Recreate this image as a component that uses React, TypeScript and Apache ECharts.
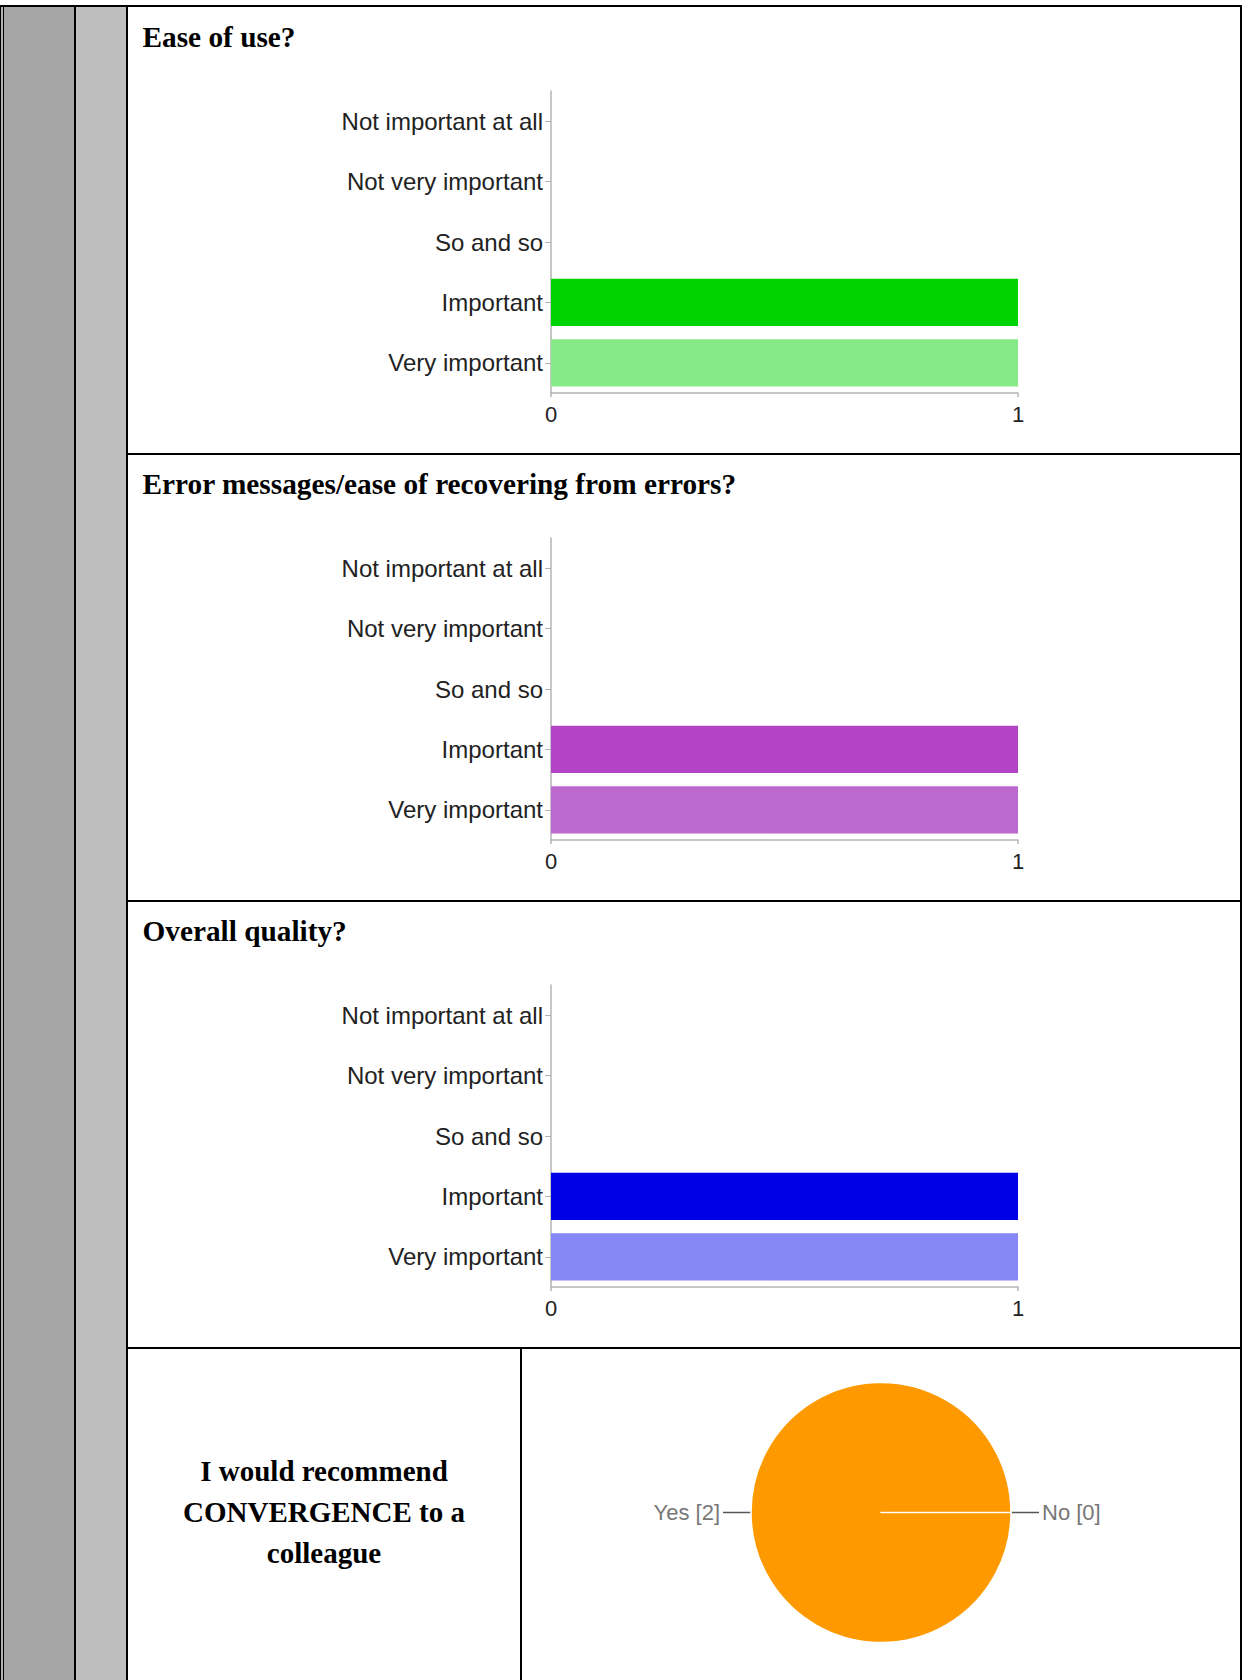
import React, { useEffect, useRef } from "react";
import * as echarts from "echarts";

// ---------- data ----------
const CATEGORIES = [
  "Not important at all",
  "Not very important",
  "So and so",
  "Important",
  "Very important",
];
const QUESTIONS = [
  "Ease of use?",
  "Error messages/ease of recovering from errors?",
  "Overall quality?",
];
const EASE_OF_USE = [0, 0, 0, 1, 1];
const ERROR_RECOVERY = [0, 0, 0, 1, 1];
const OVERALL_QUALITY = [0, 0, 0, 1, 1];
const X_MIN = 0;
const X_MAX = 1;
const RECOMMEND_QUESTION = "I would recommend\nCONVERGENCE to a\ncolleague";
const RECOMMEND_LABELS = ["Yes", "No"];
const RECOMMEND_VALUES = [2, 0];

// ---------- styles ----------
const STRONG_COLORS = ["#00D300", "#B444C6", "#0000E6"];
const LIGHT_COLORS = ["#86EA86", "#BC69CF", "#8686F6"];
const PIE_COLOR = "#FF9900";
const SERIF = "'Liberation Serif', 'Times New Roman', serif";
const SANS = "'Liberation Sans', Arial, Helvetica, sans-serif";

const W = 1243;
const H = 1680;
const ROW_PITCH = 447;

export default function App() {
  const ref = useRef<HTMLDivElement>(null);

  useEffect(() => {
    if (!ref.current) return;
    const chart = echarts.init(ref.current, undefined, { renderer: "svg" });

    const seriesData = [EASE_OF_USE, ERROR_RECOVERY, OVERALL_QUALITY];

    const grids: any[] = [];
    const xAxes: any[] = [];
    const yAxes: any[] = [];
    const series: any[] = [];

    seriesData.forEach((vals, i) => {
      grids.push({
        left: 551,
        width: 467,
        top: 91 + ROW_PITCH * i,
        height: 302,
        containLabel: false,
      });
      xAxes.push({
        type: "value",
        gridIndex: i,
        min: X_MIN,
        max: X_MAX,
        interval: 1,
        axisLine: { show: true, lineStyle: { color: "#b4b4b4", width: 1.5 } },
        axisTick: { show: true, length: 4, lineStyle: { color: "#b4b4b4", width: 1.5 } },
        splitLine: { show: false },
        axisLabel: { color: "#222", fontSize: 22, fontFamily: SANS, margin: 10 },
      });
      yAxes.push({
        type: "category",
        gridIndex: i,
        data: CATEGORIES,
        inverse: true,
        axisLine: { show: true, lineStyle: { color: "#b4b4b4", width: 1.5 } },
        axisTick: {
          show: true,
          alignWithLabel: true,
          length: 6,
          lineStyle: { color: "#b4b4b4", width: 1 },
        },
        splitLine: { show: false },
        axisLabel: {
          color: "#222",
          fontSize: 24,
          fontFamily: SANS,
          margin: 8,
          padding: [4, 0, 0, 0],
        },
      });
      series.push({
        type: "bar",
        xAxisIndex: i,
        yAxisIndex: i,
        barCategoryGap: "21.7%",
        data: vals.map((v, k) => ({
          value: v,
          itemStyle: {
            color: k === CATEGORIES.length - 1 ? LIGHT_COLORS[i] : STRONG_COLORS[i],
          },
        })),
        emphasis: { disabled: true },
      });
    });

    series.push({
      type: "pie",
      center: [881, 1512.5],
      radius: 130,
      startAngle: 0,
      clockwise: true,
      avoidLabelOverlap: false,
      color: [PIE_COLOR],
      data: RECOMMEND_LABELS.map((n, k) => ({ name: n, value: RECOMMEND_VALUES[k] })),
      itemStyle: { borderColor: "#ffffff", borderWidth: 1.5, color: PIE_COLOR },
      label: {
        show: true,
        formatter: "{b} [{c}]",
        color: "#777",
        fontSize: 22,
        fontFamily: SANS,
        distanceToLabelLine: 3,
      },
      labelLine: {
        show: true,
        length: 14,
        length2: 14,
        lineStyle: { color: "#555", width: 1.5 },
      },
      emphasis: { disabled: true },
    });

    const rect = (x: number, y: number, w: number, h: number, fill: string) => ({
      type: "rect",
      silent: true,
      shape: { x, y, width: w, height: h },
      style: { fill },
    });

    const elements: any[] = [
      // gray side columns
      rect(4, 7, 70, H - 7, "#A6A6A6"),
      rect(76, 7, 50, H - 7, "#BEBEBE"),
      // borders
      rect(0, 5, 1.3, H - 5, "#000"),
      rect(2.7, 5, 1.3, H - 5, "#000"),
      rect(74, 5, 2, H - 5, "#000"),
      rect(126, 5, 2, H - 5, "#000"),
      rect(0, 5, 1242, 2, "#000"),
      rect(1240, 5, 2, H - 5, "#000"),
      rect(128, 453, 1112, 2, "#000"),
      rect(128, 900, 1112, 2, "#000"),
      rect(128, 1347, 1112, 2, "#000"),
      rect(520, 1347, 2, H - 1347, "#000"),
    ];

    QUESTIONS.forEach((q, i) => {
      elements.push({
        type: "text",
        silent: true,
        x: 142.5,
        y: 36.5 + ROW_PITCH * i,
        style: {
          text: q,
          fill: "#000",
          font: `bold 29.3px ${SERIF}`,
          textAlign: "left",
          textVerticalAlign: "middle",
        },
      });
    });

    elements.push({
      type: "text",
      silent: true,
      x: 324,
      y: 1512,
      style: {
        text: RECOMMEND_QUESTION,
        fill: "#000",
        font: `bold 29px ${SERIF}`,
        lineHeight: 41,
        textAlign: "center",
        textVerticalAlign: "middle",
      },
    });

    chart.setOption({
      animation: false,
      backgroundColor: "#ffffff",
      textStyle: { fontFamily: SANS },
      grid: grids,
      xAxis: xAxes,
      yAxis: yAxes,
      series,
      graphic: { elements },
    });

    return () => chart.dispose();
  }, []);

  return (
    <div
      ref={ref}
      style={{ position: "absolute", left: 0, top: 0, width: W, height: H }}
    />
  );
}
